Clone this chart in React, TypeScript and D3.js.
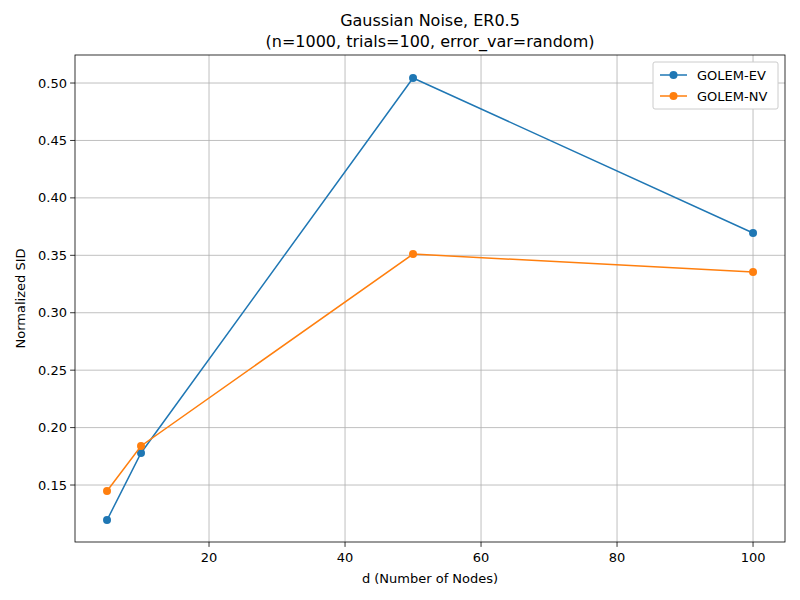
import * as d3 from "d3";

const xs = [5, 10, 50, 100];
const golemEV = [0.1195, 0.1779, 0.5044, 0.3694];
const golemNV = [0.1448, 0.184, 0.3511, 0.3354];
const xTicks = [20, 40, 60, 80, 100];
const yTicks = [0.15, 0.2, 0.25, 0.3, 0.35, 0.4, 0.45, 0.5];

const series = [
  { name: "GOLEM-EV", values: golemEV, color: "#1f77b4" },
  { name: "GOLEM-NV", values: golemNV, color: "#ff7f0e" },
];

export default function App() {
  const left = 75, right = 785, top = 55, bottom = 542;
  const x = d3.scaleLinear().domain([0.29, 104.7]).range([left, right]);
  const y = d3.scaleLinear().domain([0.1004, 0.5244]).range([bottom, top]);
  const line = d3.line<number>().x((_, i) => x(xs[i])).y((d) => y(d));
  const font = "DejaVu Sans, sans-serif";

  return (
    <svg width={800} height={600} style={{ position: "absolute", left: 0, top: 0, fontFamily: font }}>
      <rect width={800} height={600} fill="white" />
      {xTicks.map((t) => (
        <g key={t}>
          <line x1={x(t)} x2={x(t)} y1={top} y2={bottom} stroke="#b0b0b0" strokeWidth={0.8} />
          <line x1={x(t)} x2={x(t)} y1={bottom} y2={bottom + 4.9} stroke="black" strokeWidth={0.8} />
          <text x={x(t)} y={bottom + 20} fontSize={13} textAnchor="middle">{t}</text>
        </g>
      ))}
      {yTicks.map((t) => (
        <g key={t}>
          <line x1={left} x2={right} y1={y(t)} y2={y(t)} stroke="#b0b0b0" strokeWidth={0.8} />
          <line x1={left - 4.9} x2={left} y1={y(t)} y2={y(t)} stroke="black" strokeWidth={0.8} />
          <text x={left - 8} y={y(t) + 4.5} fontSize={13} textAnchor="end">{t.toFixed(2)}</text>
        </g>
      ))}
      {series.map((s) => (
        <g key={s.name}>
          <path d={line(s.values) || ""} fill="none" stroke={s.color} strokeWidth={1.5} />
          {s.values.map((v, i) => (
            <circle key={i} cx={x(xs[i])} cy={y(v)} r={4} fill={s.color} />
          ))}
        </g>
      ))}
      <rect x={left} y={top} width={right - left} height={bottom - top} fill="none" stroke="black" strokeWidth={0.8} />
      <text x={430} y={26} fontSize={16} textAnchor="middle">Gaussian Noise, ER0.5</text>
      <text x={430} y={47} fontSize={16} textAnchor="middle">(n=1000, trials=100, error_var=random)</text>
      <text x={430} y={583} fontSize={13} textAnchor="middle">d (Number of Nodes)</text>
      <text transform={`translate(25,${(top + bottom) / 2}) rotate(-90)`} fontSize={13} textAnchor="middle">Normalized SID</text>
      <g>
        <rect x={653} y={62} width={125} height={47} fill="white" stroke="#cccccc" rx={2} />
        {series.map((s, i) => (
          <g key={s.name} transform={`translate(660,${75 + i * 21})`}>
            <line x1={0} x2={27} y1={0} y2={0} stroke={s.color} strokeWidth={1.5} />
            <circle cx={13.5} cy={0} r={4} fill={s.color} />
            <text x={37} y={4.5} fontSize={13}>{s.name}</text>
          </g>
        ))}
      </g>
    </svg>
  );
}
